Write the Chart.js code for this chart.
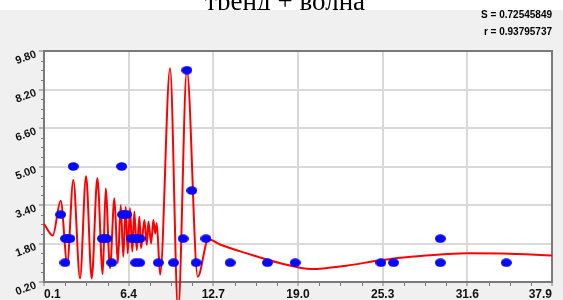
<!DOCTYPE html>
<html><head><meta charset="utf-8">
<script src="https://cdn.jsdelivr.net/npm/chart.js@4/dist/chart.umd.min.js"></script>
<style>html,body{margin:0;padding:0;background:#fff;overflow:hidden}#wrap{position:relative;width:563px;height:300px}</style>
</head><body><div id="wrap"><canvas id="c" width="563" height="300"></canvas></div>
<script>
const titleText = 'тренд + волна';
const statLines = ['S = 0.72545849', 'r = 0.93795737'];
const xTicks = [0.1, 6.4, 12.7, 19.0, 25.3, 31.6, 37.9];
const yTicks = [0.2, 1.8, 3.4, 5.0, 6.6, 8.2, 9.8];

// observed points
const pointX = [1.34, 1.70, 1.87, 2.03, 1.66, 2.28, 4.44, 4.60, 4.77, 5.14, 5.88, 5.93, 6.10, 6.26,
  6.58, 6.80, 7.02, 7.25, 6.92, 7.22, 8.61, 9.74, 10.45, 10.73, 11.10, 11.42, 12.15, 13.95,
  16.73, 18.79, 25.17, 26.11, 29.59, 29.59, 34.50];
const pointY = [3, 2, 2, 2, 1, 5, 2, 2, 2, 1, 5, 3, 3, 3,
  2, 2, 2, 2, 1, 1, 1, 1, 2, 9, 4, 1, 2, 1,
  1, 1, 1, 1, 1, 2, 1];

// fitted curve (trend + wave)
const curveX = [0.10, 0.75, 1.34, 1.83, 2.28, 2.78, 3.23, 3.65, 4.07, 4.47, 4.69, 5.01, 5.34, 5.59,
  5.81, 6.00, 6.18, 6.33, 6.50, 6.67, 6.82, 7.00, 7.20, 7.32, 7.57, 7.75, 7.87, 8.07, 8.24, 8.37,
  8.49, 8.74, 9.48, 10.08, 10.73, 11.54, 12.33, 13.20, 15.20, 17.70, 20.00, 22.60, 25.10, 27.60,
  31.70, 34.20, 37.90];
const curveY = [2.62, 2.13, 3.58, 0.98, 4.44, 0.35, 4.60, 0.35, 4.51, 0.53, 4.09, 0.77, 3.68, 0.98,
  3.40, 1.25, 3.33, 1.39, 3.26, 1.46, 3.12, 1.53, 2.91, 1.60, 2.78, 1.74, 2.71, 1.81, 2.78, 2.22,
  2.64, 0.50, 9.08, -1.00, 9.01, 0.42, 1.98, 1.76, 1.39, 0.98, 0.74, 0.88, 1.10, 1.26,
  1.40, 1.38, 1.30];

const dot = document.createElement('canvas');
dot.width = 11; dot.height = 9;
(function(){ const g = dot.getContext('2d'); g.fillStyle = '#0808f8'; g.beginPath();
  g.ellipse(5.5, 4.5, 5.5, 4.2, 0, 0, Math.PI * 2); g.fill(); })();

const decor = {
  id: 'decor',
  beforeDraw(chart) {
    const { ctx, chartArea: a } = chart;
    ctx.save();
    ctx.fillStyle = '#ffffff'; ctx.fillRect(0, 0, 563, 300);
    ctx.fillStyle = '#000'; ctx.font = '27px "Liberation Serif"';
    ctx.textAlign = 'center'; ctx.textBaseline = 'alphabetic';
    ctx.fillText(titleText, 285, 9.5);
    ctx.fillStyle = '#f0f0f0'; ctx.fillRect(0, 10, 563, 290);
    ctx.fillStyle = '#ffffff'; ctx.fillRect(a.left, a.top, a.right - a.left, a.bottom - a.top);
    ctx.fillStyle = '#000'; ctx.font = 'bold 10px "Liberation Sans"';
    ctx.textAlign = 'right'; ctx.textBaseline = 'middle';
    ctx.fillText(statLines[0], a.right, 15);
    ctx.fillText(statLines[1], a.right, 32);
    ctx.restore();
  },
  beforeDatasetsDraw(chart) {
    const { ctx, chartArea: a, scales } = chart;
    ctx.save();
    ctx.strokeStyle = '#7a7a7a'; ctx.lineWidth = 1;
    ctx.beginPath();
    const ys = scales.y, xs = scales.x;
    for (let i = 0; i < yTicks.length - 1; i++) {
      const step = (yTicks[i + 1] - yTicks[i]) / 4;
      for (let k = 1; k < 4; k++) {
        const p = Math.round(ys.getPixelForValue(yTicks[i] + k * step)) + 0.5;
        ctx.moveTo(a.left - 3, p); ctx.lineTo(a.left, p);
      }
    }
    for (let i = 0; i < xTicks.length - 1; i++) {
      const step = (xTicks[i + 1] - xTicks[i]) / 4;
      for (let k = 1; k < 4; k++) {
        const p = Math.round(xs.getPixelForValue(xTicks[i] + k * step)) + 0.5;
        ctx.moveTo(p, a.bottom); ctx.lineTo(p, a.bottom + 4);
      }
    }
    ctx.stroke();
    ctx.strokeStyle = '#7a7a7a'; ctx.lineWidth = 2;
    ctx.strokeRect(a.left, a.top, a.right - a.left, a.bottom - a.top);
    ctx.restore();
  }
};

new Chart(document.getElementById('c'), {
  type: 'scatter',
  data: {
    datasets: [
      {
        label: 'points',
        data: pointX.map((x, i) => ({ x, y: pointY[i] })),
        pointStyle: dot,
        pointRadius: 5,
        showLine: false,
        order: 0
      },
      {
        label: 'curve',
        data: curveX.map((x, i) => ({ x, y: curveY[i] })),
        showLine: true,
        borderColor: '#ff0000',
        borderWidth: 2,
        pointRadius: 0,
        cubicInterpolationMode: 'monotone',
        capBezierPoints: false,
        fill: false,
        clip: false,
        order: 1
      }
    ]
  },
  options: {
    responsive: false,
    animation: false,
    devicePixelRatio: 1,
    events: [],
    layout: { padding: { left: 0, top: 51, right: 11, bottom: 0 } },
    plugins: { legend: { display: false }, tooltip: { enabled: false }, title: { display: false } },
    scales: {
      x: {
        type: 'linear', min: 0.1, max: 37.9,
        afterBuildTicks: s => { s.ticks = xTicks.map(v => ({ value: v })); },
        afterFit: s => { s.height = 18; },
        grid: { color: '#d9d9d9', lineWidth: 2, tickColor: '#7a7a7a', tickLength: 4, tickWidth: 1 },
        border: { display: false },
        ticks: {
          autoSkip: false, maxRotation: 0, minRotation: 0, align: 'inner', padding: 1,
          color: '#111', font: { family: '"Liberation Sans"', size: 12, weight: 'bold' },
          callback: v => Number(v).toFixed(1)
        }
      },
      y: {
        type: 'linear', min: 0.2, max: 9.8,
        afterBuildTicks: s => { s.ticks = yTicks.map(v => ({ value: v })); },
        afterFit: s => { s.width = 44; },
        grid: { color: '#d9d9d9', lineWidth: 2, tickColor: '#7a7a7a', tickLength: 5, tickWidth: 1 },
        border: { display: false },
        ticks: {
          autoSkip: false, minRotation: 20, maxRotation: 20, padding: 3, labelOffset: 3,
          color: '#111', font: { family: '"Liberation Sans"', size: 11, weight: 'bold' },
          callback: v => Number(v).toFixed(2)
        }
      }
    }
  },
  plugins: [decor]
});
</script>
</body></html>
